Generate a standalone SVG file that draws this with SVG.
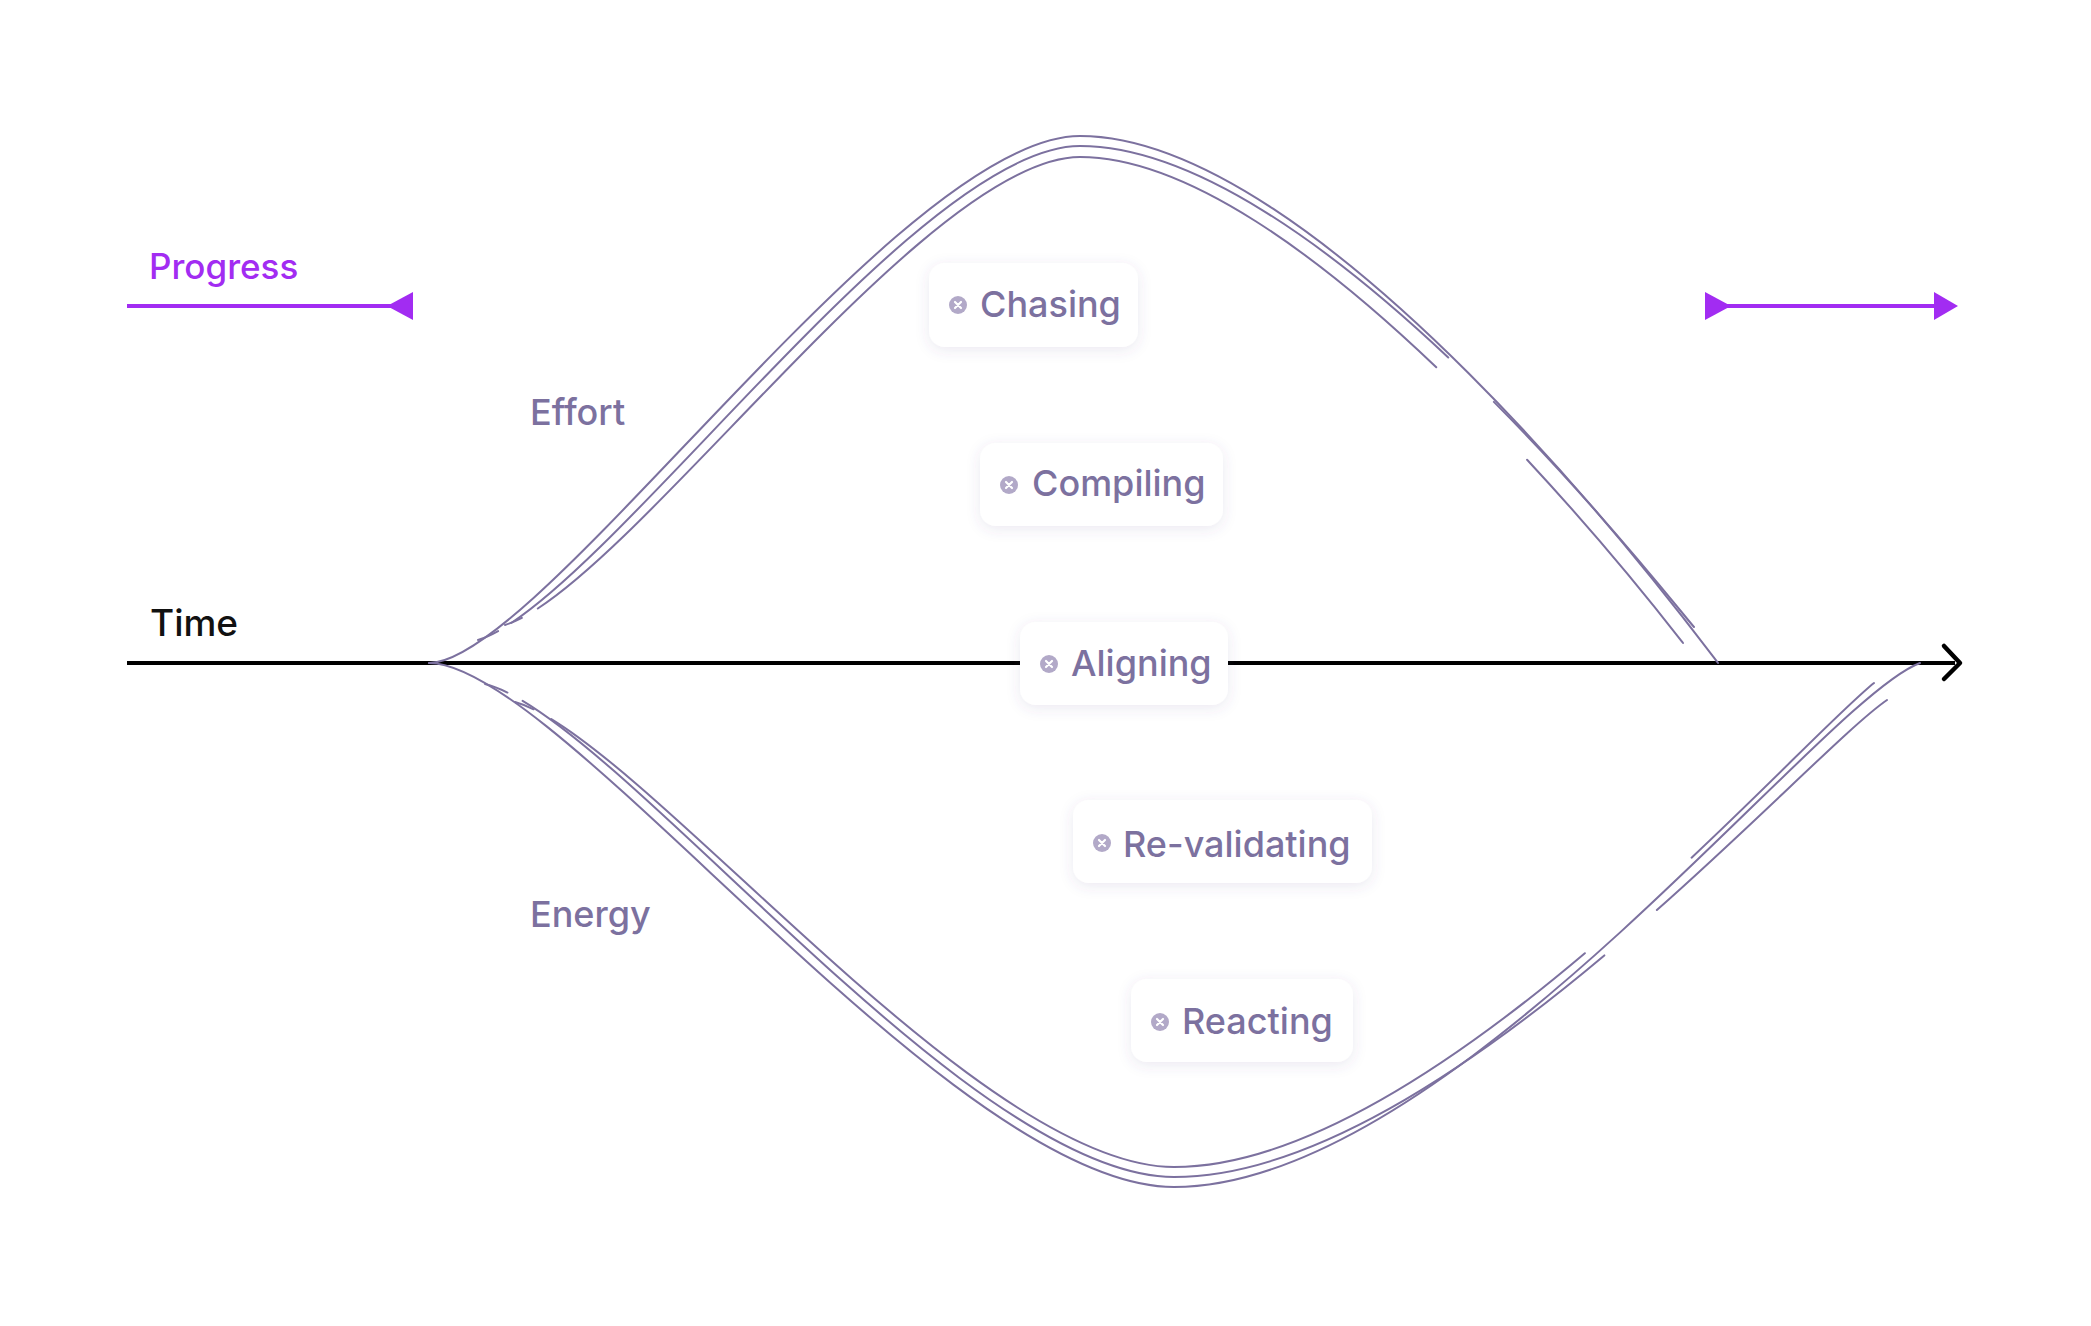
<svg xmlns="http://www.w3.org/2000/svg" width="2091" height="1326" viewBox="0 0 2091 1326">
<defs>
<style>
.lbl{font-family:Inter,"Liberation Sans",sans-serif;font-size:36px;fill:#7c719f;font-weight:500}
.ax{font-family:Inter,"Liberation Sans",sans-serif;font-size:37px;fill:#111;font-weight:500}
.prog{font-family:Inter,"Liberation Sans",sans-serif;font-size:35px;fill:#a22cf2;font-weight:500}
.box{fill:#fff;filter:url(#sh)}
.ic{fill:#b2a9c8}
.icx{stroke:#fff;stroke-width:2.2;stroke-linecap:round}
.str{fill:none;stroke:#7c719f;stroke-width:2;stroke-linecap:round}
</style>
<filter id="sh" x="-30%" y="-40%" width="160%" height="180%">
<feDropShadow dx="0" dy="3" stdDeviation="7" flood-color="#5a4a8a" flood-opacity="0.12"/>
</filter>
</defs>
<rect width="2091" height="1326" fill="#fff"/>
<g id="progress">
<text class="prog" x="149" y="279">Progress</text>
<line x1="127" y1="306" x2="400" y2="306" stroke="#a22cf2" stroke-width="4"/>
<polygon points="387,306 413,292 413,320" fill="#a22cf2"/>
<line x1="1720" y1="306" x2="1945" y2="306" stroke="#a22cf2" stroke-width="4"/>
<polygon points="1705,292 1731,306 1705,320" fill="#a22cf2"/>
<polygon points="1934,292 1958,306 1934,320" fill="#a22cf2"/>
</g>
<g id="connectors">
<line x1="127" y1="663" x2="1955" y2="663" stroke="#000" stroke-width="4"/>
<polyline points="1944,646 1960,663 1944,679" fill="none" stroke="#000" stroke-width="4.5" stroke-linecap="round" stroke-linejoin="round"/>
<path class="str" d="M429,663 C540,663 900,136 1080,136 C1330,136 1700,640 1718,663"/>
<path class="str" pathLength="1000" stroke-dasharray="14 10 746 40 1000" d="M478,640 C600,602 915,146 1080,146 C1320,146 1670,600 1694,627"/>
<path class="str" pathLength="1000" stroke-dasharray="12 12 736 84 1000" d="M505,625 C625,588 925,157 1080,157 C1310,157 1665,620 1683,643"/>
<path class="str" d="M429,663 C560,663 950,1187 1174,1187 C1450,1187 1820,700 1920,663"/>
<path class="str" pathLength="1000" stroke-dasharray="14 10 756 40 1000" d="M485,684 C615,716 965,1177 1174,1177 C1440,1177 1800,760 1887,700"/>
<path class="str" pathLength="1000" stroke-dasharray="12 12 741 85 1000" d="M515,702 C640,737 975,1167 1174,1167 C1430,1167 1790,750 1874,683"/>
</g>
<text class="lbl" x="530" y="425">Effort</text>
<text class="lbl" x="530" y="927">Energy</text>
<text class="ax" x="150" y="636">Time</text>
<g id="chasing">
<rect class="box" x="929" y="263" width="209" height="84" rx="16"/>
<circle class="ic" cx="958" cy="305" r="9"/>
<path class="icx" d="M955,302 l6,6 M961,302 l-6,6"/>
<text class="lbl" x="980" y="317">Chasing</text>
</g>
<g id="compiling">
<rect class="box" x="980" y="443" width="243" height="83" rx="16"/>
<circle class="ic" cx="1009" cy="485" r="9"/>
<path class="icx" d="M1006,482 l6,6 M1012,482 l-6,6"/>
<text class="lbl" x="1032" y="496">Compiling</text>
</g>
<g id="aligning">
<rect class="box" x="1020" y="622" width="208" height="83" rx="16"/>
<circle class="ic" cx="1049" cy="664" r="9"/>
<path class="icx" d="M1046,661 l6,6 M1052,661 l-6,6"/>
<text class="lbl" x="1071" y="676">Aligning</text>
</g>
<g id="revalidating">
<rect class="box" x="1073" y="800" width="299" height="83" rx="16"/>
<circle class="ic" cx="1102" cy="843" r="9"/>
<path class="icx" d="M1099,840 l6,6 M1105,840 l-6,6"/>
<text class="lbl" x="1123" y="857">Re-validating</text>
</g>
<g id="reacting">
<rect class="box" x="1131" y="979" width="222" height="83" rx="16"/>
<circle class="ic" cx="1160" cy="1022" r="9"/>
<path class="icx" d="M1157,1019 l6,6 M1163,1019 l-6,6"/>
<text class="lbl" x="1182" y="1034">Reacting</text>
</g>
</svg>
